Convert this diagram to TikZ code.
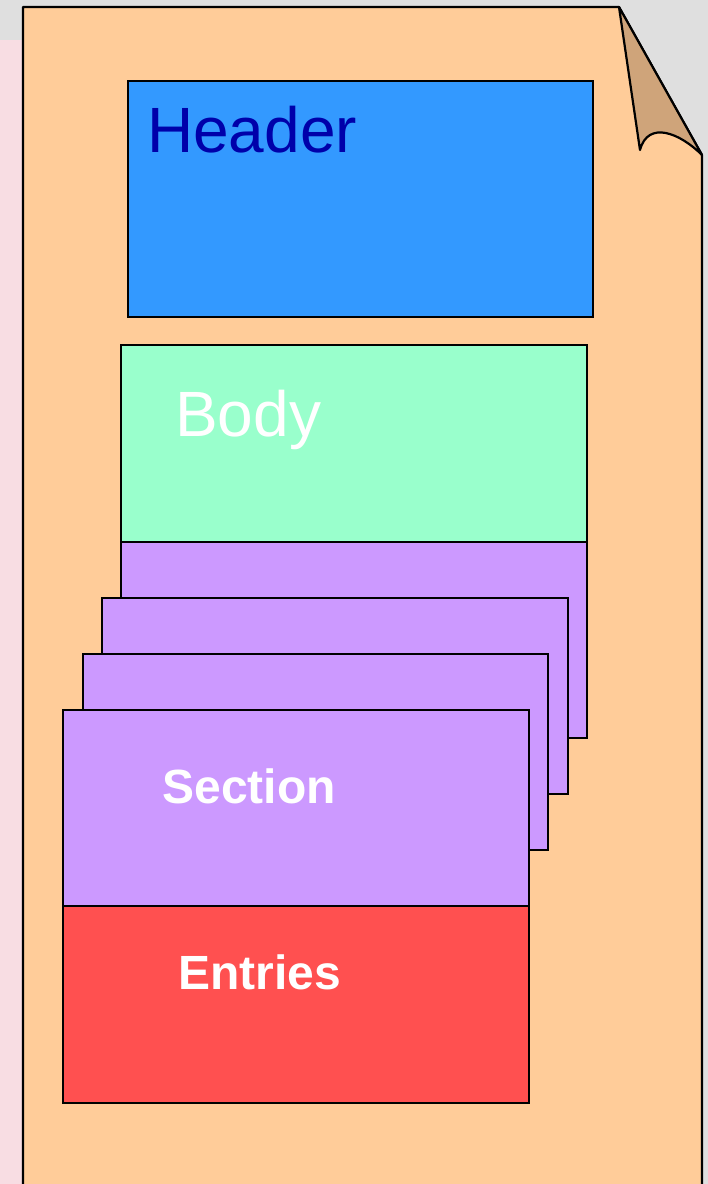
\documentclass[tikz,border=0pt]{standalone}
\usepackage{fontspec}
\setmainfont{Liberation Sans}
\begin{document}
\begin{tikzpicture}[x=1pt,y=-1pt,
  box/.style={draw=black,line width=2.2pt,rectangle,inner sep=0pt,anchor=north west},
  lbl/.style={inner sep=0pt,text=white}]
\useasboundingbox (0,0) rectangle (708,1184);
\fill[color={rgb,255:red,223;green,223;blue,223}] (0,0) rectangle (708,1184);
\fill[color={rgb,255:red,248;green,221;blue,227}] (0,40) rectangle (22,1184);
% page
\fill[color={rgb,255:red,255;green,204;blue,153}] (23,1190) -- (23,7) -- (619,7) -- (702,155) -- (702,1190) -- cycle;
\draw[line width=2.2pt,line join=round] (23,1190) -- (23,7) -- (619,7) -- (702,155) -- (702,1190);
% fold
\filldraw[fill={rgb,255:red,207;green,164;blue,122},line width=2.2pt,line join=round]
  (619,7) -- (702,155) .. controls (680,133) and (648,120) .. (640,150) -- cycle;
% boxes
\node[box,fill={rgb,255:red,51;green,153;blue,255},minimum width=465pt,minimum height=236pt] (header) at (126.5,79.5) {};
\node[box,fill={rgb,255:red,153;green,255;blue,204},minimum width=466pt,minimum height=197pt] (body) at (119.5,343.5) {};
\node[box,fill={rgb,255:red,204;green,153;blue,255},minimum width=466pt,minimum height=196pt] (s1) at (119.5,540.5) {};
\node[box,fill={rgb,255:red,204;green,153;blue,255},minimum width=466pt,minimum height=196pt] (s2) at (100.5,596.5) {};
\node[box,fill={rgb,255:red,204;green,153;blue,255},minimum width=465pt,minimum height=196pt] (s3) at (81.5,652.5) {};
\node[box,fill={rgb,255:red,204;green,153;blue,255},minimum width=466pt,minimum height=196pt] (s4) at (61.5,708.5) {};
\node[box,fill={rgb,255:red,255;green,80;blue,80},minimum width=466pt,minimum height=197pt] (entries) at (61.5,904.5) {};
% labels
\node[lbl,anchor=base west,text={rgb,255:red,0;green,0;blue,170},font=\fontsize{64}{64}\selectfont] (headerlbl) at (147,152) {Header};
\node[lbl,anchor=base west,font=\fontsize{64}{64}\selectfont] (bodylbl) at (175,436) {Body};
\node[lbl,anchor=base,font=\bfseries\fontsize{48}{48}\selectfont] (sectionlbl) at (249,803) {Section};
\node[lbl,anchor=base,font=\bfseries\fontsize{48}{48}\selectfont] (entrieslbl) at (260,989) {Entries};
\end{tikzpicture}
\end{document}
